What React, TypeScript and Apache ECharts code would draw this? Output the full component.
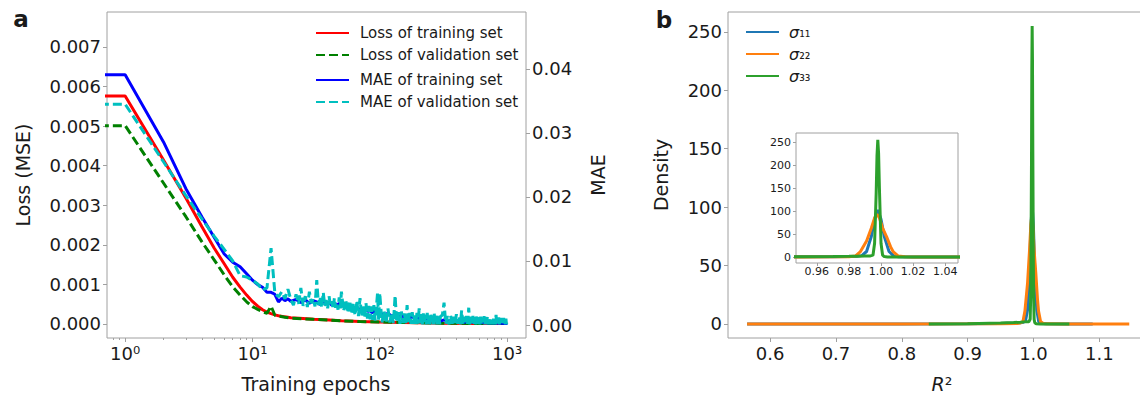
import React, { useEffect, useRef } from 'react';
import * as echarts from 'echarts';

// ---------- Panel a data ----------
const lossEpochs = [0.5, 1, 2, 3, 4, 5, 6, 7, 8, 9, 10, 11, 12, 13, 14, 15, 16, 18, 20, 25, 30, 40, 50, 70, 100, 150, 200, 300, 500, 700, 1000];
const lossTrain = [0.00576, 0.00576, 0.00414, 0.00318, 0.00246, 0.00192, 0.00152, 0.00118, 0.00093, 0.00073, 0.00057, 0.00045, 0.00036, 0.0003, 0.00026, 0.00023, 0.00021, 0.00018, 0.00016, 0.00014, 0.00012, 0.0001, 0.00008, 0.00006, 0.00005, 0.00004, 0.00003, 0.00002, 0.000015, 0.00001, 0.00001];
const lossVal = [0.00501, 0.00501, 0.00356, 0.00271, 0.00208, 0.00162, 0.00124, 0.00094, 0.00073, 0.00056, 0.00044, 0.00037, 0.00031, 0.00027, 0.00045, 0.00022, 0.0002, 0.00017, 0.00015, 0.00013, 0.00012, 0.0001, 0.00008, 0.00006, 0.00005, 0.00004, 0.00003, 0.00002, 0.000015, 0.00001, 0.00001];

const maeTrainEpochs = [
  0.5, 1, 2, 3, 4, 5, 6, 7, 8, 9, 10, 11, 12, 13, 14, 15, 16, 17, 18, 19, 20,
  22, 24, 26, 28, 30, 32, 34, 36, 38, 40, 42, 44, 46, 48, 50, 52, 54, 56, 58, 60,
  63, 66, 69, 72, 75, 78, 81, 84, 87, 90, 93, 96, 99,
  100, 108, 116, 124, 132, 140, 148, 156, 164, 172, 180, 188, 196, 204, 212, 220, 228, 236, 244, 252, 260, 268, 276, 284, 292, 300,
  320, 340, 360, 380, 400, 420, 440, 460, 480, 500, 520, 540, 560, 580, 600, 620, 640, 660, 680, 700, 720, 740, 760, 780, 800, 820, 840, 860, 880, 900, 920, 940, 960, 980, 1000,
];
const maeTrain = [
  0.0391, 0.0391, 0.0286, 0.0213, 0.0169, 0.0137, 0.0111, 0.0098, 0.0091, 0.008, 0.007, 0.0063, 0.0059, 0.0051, 0.0051, 0.0048, 0.0036, 0.0042, 0.0038, 0.0041, 0.0037,
  0.004, 0.0035, 0.0039, 0.0034, 0.0038, 0.0036, 0.0032, 0.0037, 0.0033, 0.0036, 0.0031, 0.0035, 0.003, 0.0034, 0.0029, 0.0033, 0.0028, 0.0031, 0.0027, 0.003,
  0.0025, 0.0028, 0.0024, 0.0026, 0.0022, 0.0025, 0.0021, 0.0023, 0.0019, 0.0022, 0.0018, 0.0021, 0.0017,
  0.0019, 0.0016, 0.0018, 0.0014, 0.0016, 0.0013, 0.0015, 0.0012, 0.0014, 0.0011, 0.0013, 0.001, 0.0012, 0.001, 0.0011, 0.0009, 0.0011, 0.0008, 0.001, 0.0008, 0.0009, 0.0007, 0.0009, 0.0007, 0.0008, 0.0006,
  0.0008, 0.0006, 0.0007, 0.0005, 0.0007, 0.0005, 0.0006, 0.0004, 0.0006, 0.0004, 0.0006, 0.0004, 0.0005, 0.0004, 0.0005, 0.0003, 0.0005, 0.0003, 0.0005, 0.0003, 0.0004, 0.0003, 0.0004, 0.0003, 0.0004, 0.0003, 0.0004, 0.0002, 0.0004, 0.0002, 0.0004, 0.0002, 0.0003, 0.0002, 0.0003,
];

const maeValEpochs = [
  0.5, 1, 2, 3, 4, 5, 6, 7, 8, 9, 10, 11, 12, 13, 14, 15, 16, 17, 18, 19,
  20, 21, 22, 23, 24, 25, 26, 27, 28, 29, 30, 31, 32, 33, 34, 35, 36, 37, 38, 39, 40, 41, 42, 43, 44, 45, 46, 47, 48, 49, 50,
  52, 54, 56, 58, 60, 62, 64, 66, 68, 70, 72, 74, 76, 78, 80, 82, 84, 86, 88, 90, 92, 94, 96, 98, 100,
  104, 108, 112, 116, 120, 124, 128, 132, 136, 140, 144, 148, 152, 156, 160, 164, 168, 172, 176, 180,
  184, 188, 192, 196, 200, 204, 208, 212, 216, 220, 224, 228, 232, 236, 240, 244, 248, 252, 256, 260,
  264, 268, 272, 276, 280, 284, 288, 292, 296, 300,
  310, 320, 330, 340, 350, 360, 370, 380, 390, 400, 410, 420, 430, 440, 450, 460, 470, 480, 490, 500,
  510, 520, 530, 540, 550, 560, 570, 580, 590, 600, 610, 620, 630, 640, 650, 660, 670, 680, 690, 700,
  710, 720, 730, 740, 750, 760, 770, 780, 790, 800, 810, 820, 830, 840, 850, 860, 870, 880, 890, 900,
  910, 920, 930, 940, 950, 960, 970, 980, 990, 1000,
];
const maeVal = [
  0.0345, 0.0345, 0.0255, 0.0202, 0.0166, 0.0139, 0.0118, 0.01, 0.0077, 0.0075, 0.007, 0.0064, 0.0055, 0.0058, 0.012, 0.005, 0.0044, 0.0052, 0.0041, 0.0056,
  0.004, 0.0031, 0.0048, 0.0033, 0.0058, 0.003, 0.0045, 0.0028, 0.0052, 0.0034, 0.0041, 0.0029, 0.007, 0.0031, 0.0044, 0.0027, 0.0051, 0.003, 0.0039, 0.0026, 0.0045, 0.0029, 0.0037, 0.0025, 0.0042, 0.0027, 0.0035, 0.0024, 0.0043, 0.0026, 0.0052,
  0.0022, 0.004, 0.0019, 0.0038, 0.0017, 0.0035, 0.0015, 0.0038, 0.0014, 0.0042, 0.0013, 0.0032, 0.0011, 0.0034, 0.001, 0.003, 0.0009, 0.0029, 0.0008, 0.0031, 0.0007, 0.0027, 0.0049, 0.0008, 0.005,
  0.0004, 0.0022, 0.0003, 0.0026, 0.0004, 0.0019, 0.0003, 0.0046, 0.0004, 0.002, 0.0002, 0.0021, 0.0003, 0.0018, 0.0002, 0.0031, 0.0003, 0.0019, 0.0002, 0.002,
  0.0002, 0.0017, 0.0002, 0.0019, 0.0002, 0.0026, 0.0002, 0.0017, 0.0001, 0.0018, 0.0002, 0.0016, 0.0001, 0.0019, 0.0002, 0.0015, 0.0001, 0.0016, 0.0002, 0.0015,
  0.0001, 0.0018, 0.0002, 0.0014, 0.0001, 0.0015, 0.0002, 0.0014, 0.0001, 0.0014,
  0.0015, 0.0035, 0.0002, 0.0014, 0.0001, 0.0015, 0.0002, 0.0013, 0.0001, 0.0017, 0.0002, 0.0014, 0.0001, 0.0023, 0.0002, 0.0013, 0.0001, 0.0014, 0.0002, 0.0027,
  0.0001, 0.0013, 0.0002, 0.0014, 0.0001, 0.0012, 0.0001, 0.0016, 0.0002, 0.0012, 0.0001, 0.0013, 0.0001, 0.0012, 0.0002, 0.0014, 0.0001, 0.0012, 0.0001, 0.0013,
  0.0001, 0.0011, 0.0001, 0.0012, 0.0001, 0.0011, 0.0001, 0.0012, 0.0001, 0.0011, 0.0001, 0.0016, 0.0001, 0.0011, 0.0001, 0.0012, 0.0001, 0.001, 0.0001, 0.0011,
  0.0001, 0.001, 0.0001, 0.0011, 0.0001, 0.001, 0.0001, 0.001, 0.0001, 0.0008,
];

const epochTicks = [1, 10, 100, 1000];
const epochTickLabels = ['10⁰', '10¹', '10²', '10³'];
const epochMinorTicks = [0.8, 0.9, 2, 3, 4, 5, 6, 7, 8, 9, 20, 30, 40, 50, 60, 70, 80, 90, 200, 300, 400, 500, 600, 700, 800, 900];
const lossTicks = [0, 0.001, 0.002, 0.003, 0.004, 0.005, 0.006, 0.007];
const maeTicks = [0, 0.01, 0.02, 0.03, 0.04];

// ---------- Panel b data ----------
const r2S11 = [0.565, 0.7, 0.8, 0.9, 0.95, 0.97, 0.98, 0.985, 0.988, 0.991, 0.994, 0.996, 0.998, 1.0, 1.002, 1.005, 1.008, 1.011, 1.02, 1.05, 1.09];
const densS11 = [0, 0, 0, 0.2, 0.5, 0.8, 1.0, 1.5, 3, 12, 45, 82, 102, 82, 45, 12, 2, 0.5, 0.1, 0, 0];
const r2S22 = [0.565, 0.7, 0.8, 0.9, 0.95, 0.975, 0.98, 0.984, 0.987, 0.991, 0.994, 0.996, 0.9975, 0.999, 1.001, 1.0035, 1.006, 1.0077, 1.0108, 1.015, 1.02, 1.05, 1.1, 1.1455];
const densS22 = [0, 0, 0, 0.1, 0.3, 0.5, 0.8, 2, 11, 35, 63, 85, 93, 85, 63, 44, 22, 11, 2, 0.5, 0.1, 0, 0, 0];
const r2S33 = [0.841, 0.9, 0.95, 0.97, 0.98, 0.985, 0.99, 0.993, 0.995, 0.996, 0.997, 0.9975, 0.998, 0.9985, 0.999, 1.0, 1.001, 1.002, 1.004, 1.01, 1.03, 1.0545];
const densS33 = [0, 0.3, 0.8, 1.2, 1.5, 1.8, 2.0, 2.0, 4, 30, 140, 220, 255, 225, 150, 30, 4, 1, 0.2, 0, 0, 0];

const r2Ticks = [0.6, 0.7, 0.8, 0.9, 1.0, 1.1];
const densTicks = [0, 50, 100, 150, 200, 250];
const insetR2Ticks = [0.96, 0.98, 1.0, 1.02, 1.04];

const sigmaNames = ['σ₁₁', 'σ₂₂', 'σ₃₃'];
const sigmaColors = ['#1f77b4', '#ff7f0e', '#2ca02c'];

const FONT = 'DejaVu Sans';
const TEXT = '#1a1a1a';
const AXIS = '#a0a0a0';

const zip = (xs: number[], ys: number[]) => xs.map((x, i) => [x, ys[i]]);

function valueAxis(gridIndex: number, min: number, max: number, ticks: number[], fmt: (v: number) => string, fontSize: number, margin: number, tickLen: number, extra: any = {}) {
  return {
    type: 'value',
    gridIndex,
    min,
    max,
    axisLine: { show: false, onZero: false },
    axisTick: { show: true, customValues: ticks, length: tickLen, lineStyle: { color: AXIS, width: 1 } },
    axisLabel: { show: true, customValues: ticks, formatter: fmt, fontSize, margin, color: TEXT, fontFamily: FONT },
    splitLine: { show: false },
    ...extra,
  };
}

function lineSeries(name: string, data: number[][], color: string, width: number, dashed: boolean, xAxisIndex: number, yAxisIndex: number) {
  return {
    type: 'line',
    name,
    data,
    xAxisIndex,
    yAxisIndex,
    symbol: 'none',
    showSymbol: false,
    clip: true,
    color,
    itemStyle: { color },
    lineStyle: { color, width, type: dashed ? [9, 4] : 'solid' },
    emphasis: { disabled: true },
  };
}

function textEl(text: string, x: number, y: number, fontSize: number, rotation: number, fontWeight: string = 'normal') {
  return {
    type: 'text',
    x,
    y,
    rotation,
    style: {
      text,
      fontSize,
      fontWeight,
      fontFamily: FONT,
      fill: TEXT,
      align: 'center',
      verticalAlign: 'middle',
      textAlign: 'center',
      textVerticalAlign: 'middle',
    },
  };
}

function legendBase(left: number, top: number, data: string[]) {
  return {
    orient: 'vertical',
    left,
    top,
    itemWidth: 33,
    itemHeight: 16,
    itemGap: 6,
    selectedMode: false,
    data,
    itemStyle: { opacity: 0, borderWidth: 0 },
    textStyle: { fontSize: 15, lineHeight: 16, color: TEXT, fontFamily: FONT, padding: [0, 0, 0, 6] },
  };
}

function buildOption() {
  const gridBase = { show: true, borderColor: AXIS, borderWidth: 1, containLabel: false, outerBoundsMode: 'none' };
  return {
    animation: false,
    backgroundColor: '#ffffff',
    textStyle: { fontFamily: FONT },
    grid: [
      { ...gridBase, left: 107, top: 12, width: 419, height: 326 },
      { ...gridBase, left: 728, top: 12, width: 422, height: 326 },
      { ...gridBase, left: 796, top: 133, width: 162, height: 130, backgroundColor: '#ffffff' },
    ],
    xAxis: [
      {
        type: 'log',
        logBase: 10,
        gridIndex: 0,
        position: 'bottom',
        min: 0.72,
        max: 1409,
        axisLine: { show: false, onZero: false },
        axisTick: { show: true, customValues: epochTicks, length: 4, lineStyle: { color: AXIS } },
        axisLabel: {
          show: true,
          customValues: epochTicks,
          formatter: (v: number) => epochTickLabels[Math.round(Math.log10(v))],
          fontSize: 18,
          margin: 6,
          color: TEXT,
          fontFamily: FONT,
        },
        splitLine: { show: false },
      },
      {
        type: 'log',
        logBase: 10,
        gridIndex: 0,
        position: 'bottom',
        min: 0.72,
        max: 1409,
        axisLine: { show: false, onZero: false },
        axisTick: { show: true, customValues: epochMinorTicks, length: 2, lineStyle: { color: AXIS } },
        axisLabel: { show: false },
        splitLine: { show: false },
      },
      valueAxis(1, 0.536, 1.177, r2Ticks, (v) => v.toFixed(1), 18, 6, 4, { position: 'bottom' }),
      valueAxis(2, 0.947, 1.048, insetR2Ticks, (v) => v.toFixed(2), 11, 3, 3, { position: 'bottom' }),
    ],
    yAxis: [
      valueAxis(0, -0.000354, 0.00788, lossTicks, (v) => v.toFixed(3), 18, 6, 4, { position: 'left' }),
      valueAxis(0, -0.00203, 0.0489, maeTicks, (v) => v.toFixed(2), 18, 6, 4, { position: 'right' }),
      valueAxis(1, -12, 267, densTicks, (v) => String(Math.round(v)), 18, 6, 4, { position: 'left' }),
      valueAxis(2, -13, 269.6, densTicks, (v) => String(Math.round(v)), 11, 5, 3, { position: 'left' }),
    ],
    legend: [
      legendBase(310, 20, ['Loss of training set', 'Loss of validation set']),
      legendBase(310, 67, ['MAE of training set', 'MAE of validation set']),
      {
        ...legendBase(740, 19, sigmaNames),
        formatter: (name: string) => `{i|σ}{s|${name.slice(1)}}`,
        textStyle: {
          fontSize: 15,
          lineHeight: 16,
          color: TEXT,
          fontFamily: FONT,
          padding: [0, 0, 0, 5],
          rich: {
            i: { fontSize: 16, fontStyle: 'italic', lineHeight: 16, fontFamily: FONT, color: TEXT },
            s: { fontSize: 14, lineHeight: 16, fontFamily: FONT, color: TEXT },
          },
        },
      },
    ],
    series: [
      lineSeries('Loss of training set', zip(lossEpochs, lossTrain), '#ff0000', 3, false, 0, 0),
      lineSeries('Loss of validation set', zip(lossEpochs, lossVal), '#008000', 3, true, 0, 0),
      lineSeries('MAE of training set', zip(maeTrainEpochs, maeTrain), '#0000ff', 3, false, 0, 1),
      lineSeries('MAE of validation set', zip(maeValEpochs, maeVal), '#00bfbf', 3, true, 0, 1),
      lineSeries(sigmaNames[0], zip(r2S11, densS11), sigmaColors[0], 3, false, 2, 2),
      lineSeries(sigmaNames[1], zip(r2S22, densS22), sigmaColors[1], 3, false, 2, 2),
      lineSeries(sigmaNames[2], zip(r2S33, densS33), sigmaColors[2], 3, false, 2, 2),
      lineSeries(sigmaNames[0] + ' (inset)', zip(r2S11, densS11), sigmaColors[0], 3, false, 3, 3),
      lineSeries(sigmaNames[1] + ' (inset)', zip(r2S22, densS22), sigmaColors[1], 3, false, 3, 3),
      lineSeries(sigmaNames[2] + ' (inset)', zip(r2S33, densS33), sigmaColors[2], 3, false, 3, 3),
    ],
    graphic: [
      textEl('a', 21, 19, 23, 0, 'bold'),
      textEl('b', 664, 20, 23, 0, 'bold'),
      textEl('Loss (MSE)', 23, 175, 19, Math.PI / 2),
      textEl('MAE', 598, 175, 19, Math.PI / 2),
      textEl('Training epochs', 316, 384, 19, 0),
      textEl('Density', 661, 175, 19, Math.PI / 2),
      {
        type: 'text',
        x: 942,
        y: 384,
        style: {
          text: '{i|R}{n|²}',
          rich: {
            i: { fontSize: 19, fontStyle: 'italic', fontFamily: FONT, fill: TEXT, color: TEXT },
            n: { fontSize: 19, fontFamily: FONT, fill: TEXT, color: TEXT },
          },
          fontSize: 19,
          fontFamily: FONT,
          fill: TEXT,
          align: 'center',
          verticalAlign: 'middle',
          textAlign: 'center',
          textVerticalAlign: 'middle',
        },
      },
    ],
  };
}

export default function App() {
  const ref = useRef<HTMLDivElement>(null);
  useEffect(() => {
    document.body.style.margin = '0';
    const chart = echarts.init(ref.current as HTMLDivElement, undefined, { renderer: 'svg' });
    chart.setOption(buildOption() as any);
    return () => {
      chart.dispose();
    };
  }, []);
  return <div ref={ref} style={{ width: 1140, height: 400, overflow: 'hidden' }} />;
}
